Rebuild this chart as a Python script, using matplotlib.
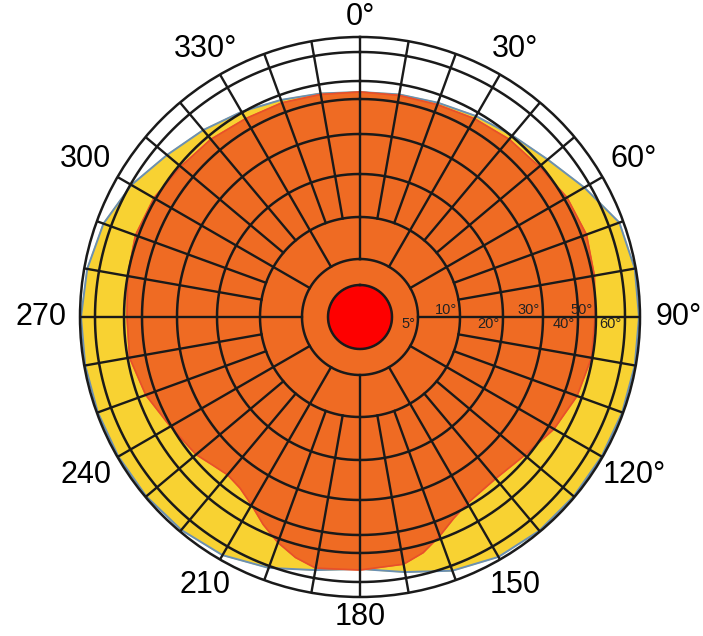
import numpy as np
import matplotlib
matplotlib.use('Agg')
import matplotlib.pyplot as plt

plt.rcParams['font.family'] = ['Liberation Sans', 'DejaVu Sans']

# azimuth labels, clockwise from north
azimuths = [0, 30, 60, 90, 120, 150, 180, 210, 240, 270, 300, 330]
azimuth_labels = ['0°', '30°', '60°', '90°', '120°', '150', '180',
                  '210', '240', '270', '300', '330°']

# rings of the sky plot (radius in plot units, outer edge = 280) and labels
ring_r = [58, 100, 143, 183, 218, 236, 265]
ring_labels = ['5°', '10°', '20°', '30°', '40°', '50°', '60°']
outer_r = 280
core_r = 32

# yellow coverage outline (azimuth deg, radius)
yellow_az = [0, 10, 20, 30, 40, 50, 60, 70, 80, 90, 100, 110, 120, 130, 140,
             150, 160, 170, 180, 190, 200, 210, 220, 230, 240, 250, 260, 270,
             280, 290, 300, 310, 320, 330, 340, 350]
yellow_r = [225, 226, 228, 232, 237, 245, 259, 276, 279, 279, 279, 279, 279,
            279, 279, 277, 270, 259, 252, 257, 267, 275, 278, 279, 279, 279,
            279, 279, 277, 273, 264, 252, 244, 237, 231, 227]

# orange coverage outline (azimuth deg, radius)
orange_az = [0, 10, 20, 30, 40, 50, 60, 70, 80, 90, 100, 110, 120, 130, 140,
             150, 155, 160, 165, 170, 180, 190, 195, 200, 205, 210, 215, 220,
             225, 230, 240, 250, 260, 270, 280, 290, 300, 310, 320, 330, 340,
             350]
orange_r = [225, 225, 226, 229, 232, 234, 239, 241, 238, 235, 235, 231, 224,
            215, 211, 215, 222, 233, 244, 251, 253, 255, 249, 240, 229, 217,
            209, 206, 209, 214, 219, 228, 234, 233, 236, 239, 238, 234, 232,
            229, 228, 226]


def closed(az, r):
    t = np.deg2rad(list(az) + [az[0]])
    return t, list(r) + [r[0]]


fig = plt.figure(figsize=(7.03, 6.36), dpi=100)
ax = fig.add_axes([80 / 703, 39 / 636, 560 / 703, 560 / 636], projection='polar')
ax.set_theta_zero_location('N')
ax.set_theta_direction(-1)
ax.set_ylim(0, outer_r)
ax.set_xticks([])
ax.set_yticks([])
ax.grid(False)
ax.spines['polar'].set_color('#1a1a1a')
ax.spines['polar'].set_linewidth(1.8)

# coverage areas
t, r = closed(yellow_az, yellow_r)
ax.fill(t, r, color='#f8d232', zorder=1)
ax.plot(t, r, color='#6a90b4', lw=1.4, zorder=1.2)
t, r = closed(orange_az, orange_r)
ax.fill(t, r, color='#ef6b23', zorder=1.5)
ax.plot(t, r, color='#e8502a', lw=1.2, zorder=1.6)

# grid rings
circ = np.linspace(0, 2 * np.pi, 721)
for rr in ring_r:
    ax.plot(circ, np.full_like(circ, rr), color='#1a1a1a', lw=1.8, zorder=3)

# grid spokes: every 30 deg from the 5 deg ring, every 10 deg from the 10 deg ring
for a in range(0, 360, 10):
    r0 = ring_r[0] if a % 30 == 0 else ring_r[1]
    th = np.deg2rad(a)
    ax.plot([th, th], [r0, outer_r], color='#1a1a1a', lw=1.7, zorder=3)

# red core
ax.fill(circ, np.full_like(circ, core_r), color='#fe0000', zorder=4)
ax.plot(circ, np.full_like(circ, core_r), color='#1a1a1a', lw=1.8, zorder=4)

# ring labels along the 90 deg spoke, alternating below/above
for i, (rr, lab) in enumerate(zip(ring_r, ring_labels)):
    va = 'top' if i % 2 == 0 else 'bottom'
    ax.text(np.deg2rad(90), rr - 3, lab, fontsize=10.5, ha='right', va=va,
            color='#222222', zorder=5)

# azimuth labels
for a, lab in zip(azimuths, azimuth_labels):
    th = np.deg2rad(a)
    gap = 20 + 19 * abs(np.sin(th))
    ax.text(th, outer_r + gap, lab, fontsize=22, ha='center', va='center',
            clip_on=False)

fig.savefig('out.png', dpi=100)
